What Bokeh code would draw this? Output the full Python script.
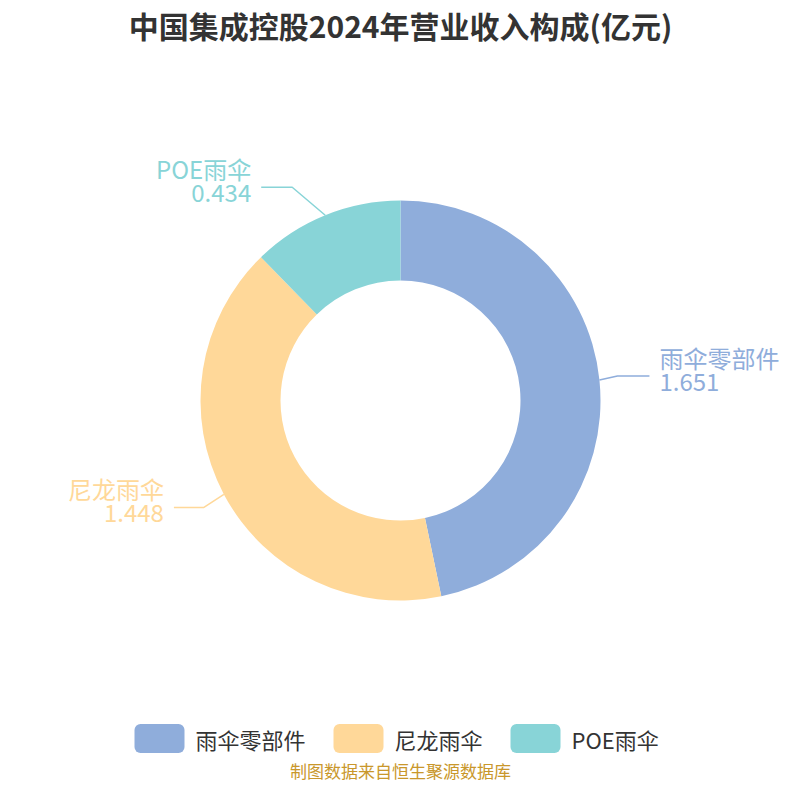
import math
from bokeh.plotting import figure
from bokeh.models import Range1d
from bokeh.core.properties import value
from bokeh.embed import file_html
from bokeh.resources import INLINE

# data
categories = ["雨伞零部件", "尼龙雨伞", "POE雨伞"]
values = [1.651, 1.448, 0.434]
value_labels = ["1.651", "1.448", "0.434"]
colors = ["#8FADDB", "#FFD899", "#88D4D7"]
title_text = "中国集成控股2024年营业收入构成(亿元)"
source_text = "制图数据来自恒生聚源数据库"

FONT = "Noto Sans CJK SC"
W = 784
H = 784  # y_data = H - y_screen

# leader-line layout (screen px offsets of the elbow from the slice's outer midpoint, and
# horizontal segment length)
elbow_dx = [18, -20, -33]
elbow_dy = [-4, 13, -28]
seg2 = [32, 30, 31]

p = figure(width=W, height=H, output_backend="svg", toolbar_location=None,
           x_range=Range1d(0, W), y_range=Range1d(0, H), min_border=0)
p.axis.visible = False
p.grid.visible = False
p.outline_line_color = None
p.background_fill_color = "white"

cx, cy = 400, H - 400
r_in, r_out = 120, 200
total = sum(values)

cum = 0.0
mids = []
for i, v in enumerate(values):
    a0 = math.pi / 2 - 2 * math.pi * cum / total
    cum += v
    a1 = math.pi / 2 - 2 * math.pi * cum / total
    p.annular_wedge(x=cx, y=cy, inner_radius=r_in, outer_radius=r_out,
                    start_angle=a1, end_angle=a0, direction="anticlock",
                    fill_color=colors[i], line_color=None)
    mids.append((a0 + a1) / 2)

# leader lines and labels
for i, a in enumerate(mids):
    ox = cx + r_out * math.cos(a)
    oy = cy + r_out * math.sin(a)
    right = math.cos(a) >= 0
    ex = ox + elbow_dx[i]
    ey = oy - elbow_dy[i]
    hx = ex + (seg2[i] if right else -seg2[i])
    p.line([ox, ex, hx], [oy, ey, ey], line_color=colors[i], line_width=1.5)
    tx = hx + (10 if right else -10)
    align = "left" if right else "right"
    p.text(x=[tx], y=[ey + 1], text=[categories[i]], text_color=colors[i],
           text_font=value(FONT), text_font_size="24px",
           text_align=align, text_baseline="bottom")
    p.text(x=[tx], y=[ey + 3], text=[value_labels[i]], text_color=colors[i],
           text_font=value(FONT), text_font_size="24px",
           text_align=align, text_baseline="top")

# title
p.text(x=[400], y=[H - 24], text=[title_text], text_color="#333333",
       text_font=value(FONT), text_font_size="30px", text_font_style="bold",
       text_align="center", text_baseline="middle")

# legend
leg_x = [134, 333, 510]
leg_y = H - 738
for i in range(3):
    p.rect(x=[leg_x[i] + 25], y=[leg_y], width=50, height=29,
           fill_color=colors[i], line_color=None, border_radius=6)
    p.text(x=[leg_x[i] + 61], y=[leg_y], text=[categories[i]], text_color="#333333",
           text_font=value(FONT), text_font_size="22px",
           text_align="left", text_baseline="middle")

# source
p.text(x=[400], y=[H - 770], text=[source_text], text_color="#C9972B",
       text_font=value(FONT), text_font_size="17px",
       text_align="center", text_baseline="middle")

open("out.html", "w").write(file_html(p, INLINE))
